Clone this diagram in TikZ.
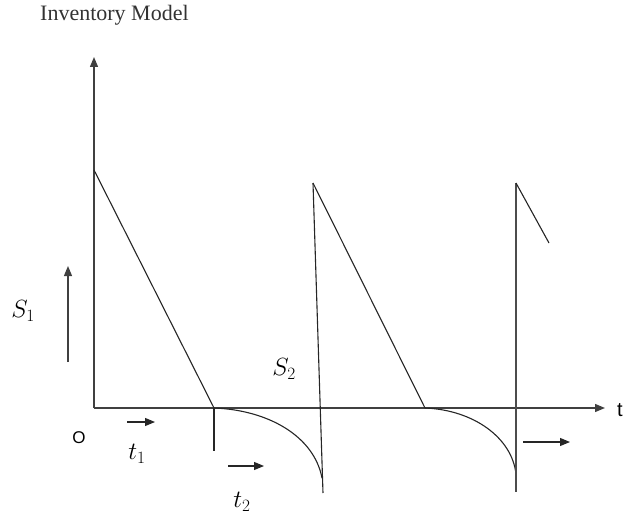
\documentclass[tikz,border=0pt]{standalone}
\usepackage{fontspec}
\setmainfont{Liberation Serif}
\newfontfamily\arialfont{Liberation Sans}
\usetikzlibrary{arrows.meta}
\begin{document}
\begin{tikzpicture}[x=1pt,y=-1pt,
  axis/.style={draw=black!75,line width=1.3pt},
  curve/.style={draw=black!85,line width=1.1pt},
  tip/.style={-{Triangle[length=10pt,width=8pt]}},
  lbl/.style={inner sep=0pt,font=\fontsize{26}{30}\selectfont}]
\useasboundingbox (0,0) rectangle (625,519);
% axes
\coordinate (O) at (94,408);
\coordinate (ytop) at (94,57);
\coordinate (xend) at (605,408);
\draw[axis,tip] (O) -- (ytop);
\draw[axis,tip] (O) -- (xend);
% first tooth
\coordinate (p1) at (94,170);
\coordinate (z1) at (214,408);
\coordinate (k1) at (214,451);
\coordinate (c1) at (322,478);
\coordinate (b1) at (323,493);
\coordinate (p2) at (313,183);
\draw[curve] (p1) -- (z1);
\draw[curve] (z1) -- (k1);
\draw[curve] (z1) .. controls (268,410) and (314,436) .. (c1);
\draw[curve] (p2) -- (b1);
% second tooth
\coordinate (z2) at (425,408);
\coordinate (c2) at (516,474);
\coordinate (b2) at (516,492);
\coordinate (p3) at (516,183);
\coordinate (e3) at (549,243);
\draw[curve] (p2) -- (z2);
\draw[curve] (z2) .. controls (474,410) and (512,438) .. (c2);
\draw[curve,draw=black!70] (p3) -- (b2);
\draw[curve] (p3) -- (e3);
% small arrows
\coordinate (s1a) at (68,362);
\coordinate (s1b) at (68,266);
\draw[axis,line width=1.2pt,tip] (s1a) -- (s1b);
\coordinate (t1a) at (127,422);
\coordinate (t1b) at (155,422);
\draw[curve,tip] (t1a) -- (t1b);
\coordinate (t2a) at (228,466);
\coordinate (t2b) at (264,466);
\draw[curve,tip] (t2a) -- (t2b);
\coordinate (t3a) at (523,442);
\coordinate (t3b) at (570,442);
\draw[curve,tip] (t3a) -- (t3b);
% labels
\node[inner sep=0pt,anchor=west,font=\fontsize{22}{26}\selectfont,text=black!80] (title) at (40,15) {Inventory Model};
\node[lbl] (S1) at (23,311) {$S_1$};
\node[lbl] (S2) at (284,369) {$S_2$};
\node[lbl] (T1) at (137,454) {$t_1$};
\node[lbl] (T2) at (242,502) {$t_2$};
\node[inner sep=0pt,font=\arialfont\fontsize{17}{20}\selectfont] (Olbl) at (79,438) {O};
\node[inner sep=0pt,anchor=west,font=\arialfont\fontsize{20}{24}\selectfont] (tlbl) at (617,410) {t};
\end{tikzpicture}
\end{document}
